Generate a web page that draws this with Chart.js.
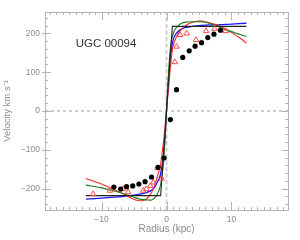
<!DOCTYPE html>
<html><head><meta charset="utf-8">
<script src="https://cdn.jsdelivr.net/npm/chart.js@4.4.1/dist/chart.umd.min.js"></script>
<style>html,body{margin:0;padding:0;background:#fff}#wrap{width:300px;height:240px}</style>
</head><body><div id="wrap"><canvas id="c" width="300" height="240"></canvas></div>
<script>
// ---- data ----
const galaxyName = "UGC 00094";
const xTicks = [-10, 0, 10];
const yTicks = [-200, -100, 0, 100, 200];
const xRange = [-18.7, 18.7];
const yRange = [-255, 255];

const obsX = [-8.1, -7.05, -6.15, -5.2, -4.25, -3.3, -2.3, -1.3, -0.37, 0.6, 1.54, 2.5, 3.5, 4.4, 5.4, 6.35, 7.3, 8.3];
const obsV = [-196, -201, -195, -193, -188, -182, -170, -145, -121, -22, 55, 138, 155, 167, 176, 189, 198, 208];

const triX = [-11.3, -8.7, -6.7, -5.9, -3.6, -3.1, -2.5, -2.05, -1.4, -0.75, 1.28, 1.54, 2.1, 3.1, 4.55, 6.1, 7.4, 9.1];
const triV = [-214, -205, -201, -209, -205, -201, -193, -184, -147, -174, 126, 166, 196, 200, 183, 206, 212, 206];

const stepX = [-12.4, -0.9, 0.9, 12.3];
const stepV = [-218, -218, 218, 218];

const blueX = [-12.4, -8, -5.6, -3.1, -2, -1.5, -1, -0.5, -0.25, 0, 0.25, 0.5, 1, 1.5, 2.5, 4, 6, 8, 10, 12.3];
const blueV = [-227, -222, -218, -210, -200, -186, -168, -118, -68, 0, 70, 122, 182, 200, 213, 218, 221, 222, 224, 226];

const greenX = [-12.4, -10, -7.2, -5, -4.1, -3, -2.3, -1.7, -1.3, -1, -0.77, -0.5, -0.25, 0, 0.25, 0.5, 0.8, 1.28, 1.8, 2.3, 3, 4.1, 5, 6.15, 7.5, 9.2, 10.8, 12.3];
const greenV = [-191, -198, -210, -222, -227, -229, -229, -222, -210, -196, -176, -140, -80, 0, 80, 145, 185, 209, 220, 226, 229, 230, 230, 228, 220, 209, 200, 192];

const redX = [-12.4, -10, -8.2, -6.5, -5.6, -4.6, -3.8, -3.2, -2.6, -2, -1.54, -1, -0.77, -0.4, 0, 0.4, 0.7, 1, 1.5, 2.05, 2.8, 3.6, 4.9, 6, 7.7, 9, 10.2, 11.3, 12.3];
const redV = [-174, -188, -201, -215, -223, -230, -231, -228, -218, -200, -176, -145, -120, -70, 0, 75, 130, 166, 190, 205, 218, 226, 232, 230, 222, 212, 200, 188, 175];

const pts = (xs, ys) => xs.map((x, i) => ({x, y: ys[i]}));

const FONT = "'Liberation Sans', Arial, sans-serif";
const FRAME = '#b4b4b4';
const LABEL = '#8c8c8c';

const tickPlugin = {
  id: 'inwardTicks',
  afterDatasetsDraw(chart) {
    const {ctx, chartArea: a, scales: {x, y}} = chart;
    ctx.save();
    ctx.strokeStyle = FRAME;
    ctx.lineWidth = 1;
    ctx.beginPath();
    for (let v = Math.ceil(xRange[0]); v <= Math.floor(xRange[1]); v++) {
      const px = Math.round(x.getPixelForValue(v)) + 0.5;
      const len = (v % 10 === 0) ? 8 : 3;
      ctx.moveTo(px, a.bottom); ctx.lineTo(px, a.bottom - len);
      ctx.moveTo(px, a.top); ctx.lineTo(px, a.top + len);
    }
    for (let v = -240; v <= 240; v += 20) {
      const py = Math.round(y.getPixelForValue(v)) + 0.5;
      const major = v % 100 === 0;
      const len = major ? 6 : 3;
      ctx.moveTo(a.left - (major ? 3 : 0), py); ctx.lineTo(a.left + len, py);
      ctx.moveTo(a.right, py); ctx.lineTo(a.right - len, py);
    }
    ctx.stroke();
    ctx.strokeRect(Math.round(a.left) + 0.5, Math.round(a.top) + 0.5, Math.round(a.right - a.left), Math.round(a.bottom - a.top));
    ctx.fillStyle = '#333';
    ctx.font = '11.5px ' + FONT;
    ctx.textAlign = 'center';
    ctx.textBaseline = 'middle';
    ctx.fillText(galaxyName, 106, 44);
    ctx.restore();
  }
};

new Chart(document.getElementById('c'), {
  type: 'scatter',
  data: {
    datasets: [
      {data: pts(obsX, obsV), pointStyle: 'circle', pointRadius: 2.6, backgroundColor: '#000', borderColor: '#000', borderWidth: 0, showLine: false},
      {data: pts(triX, triV), pointStyle: 'triangle', pointRadius: 3.2, backgroundColor: 'rgba(0,0,0,0)', borderColor: '#ff4a4a', borderWidth: 1, showLine: false},
      {data: pts(stepX, stepV), showLine: true, pointRadius: 0, borderColor: '#222', borderWidth: 1.1, tension: 0},
      {data: pts(greenX, greenV), showLine: true, pointRadius: 0, borderColor: '#1e7a1e', borderWidth: 1.1, tension: 0.3},
      {data: pts(redX, redV), showLine: true, pointRadius: 0, borderColor: '#ff2a2a', borderWidth: 1.1, tension: 0.3},
      {data: pts(blueX, blueV), showLine: true, pointRadius: 0, borderColor: '#1515ff', borderWidth: 1.3, tension: 0.3},
      {data: pts([0, 0], yRange), showLine: true, pointRadius: 0, borderColor: '#cfcfcf', borderWidth: 2, borderDash: [4, 2.5]},
      {data: pts(xRange, [0, 0]), showLine: true, pointRadius: 0, borderColor: '#9a9a9a', borderWidth: 1, borderDash: [3, 3]}
    ]
  },
  options: {
    responsive: false,
    animation: false,
    layout: {padding: {top: 12, right: 12, left: 0, bottom: 0}},
    plugins: {legend: {display: false}, tooltip: {enabled: false}},
    scales: {
      x: {
        type: 'linear', min: xRange[0], max: xRange[1],
        afterBuildTicks: s => { s.ticks = xTicks.map(v => ({value: v})); },
        afterFit: s => { s.height = 30; },
        grid: {display: false, drawTicks: false},
        border: {display: false},
        ticks: {color: LABEL, font: {family: FONT, size: 8.5}, padding: 5, maxRotation: 0,
                callback: v => (v < 0 ? '\u2212' + Math.abs(v) : '' + v)},
        title: {display: true, text: 'Radius (kpc)', color: LABEL, font: {family: FONT, size: 10}, padding: {top: 0, bottom: 5}}
      },
      y: {
        type: 'linear', min: yRange[0], max: yRange[1],
        afterBuildTicks: s => { s.ticks = yTicks.map(v => ({value: v})); },
        afterFit: s => { s.width = 45; },
        grid: {display: false, drawTicks: false},
        border: {display: false},
        ticks: {color: LABEL, font: {family: FONT, size: 8.5}, padding: 5,
                callback: v => (v < 0 ? '\u2212' + Math.abs(v) : '' + v)},
        title: {display: true, text: 'Velocity km s\u207B\u00B9', color: LABEL, font: {family: FONT, size: 9.5}, padding: {top: 2, bottom: 0}}
      }
    }
  },
  plugins: [tickPlugin]
});
</script>
</body></html>
